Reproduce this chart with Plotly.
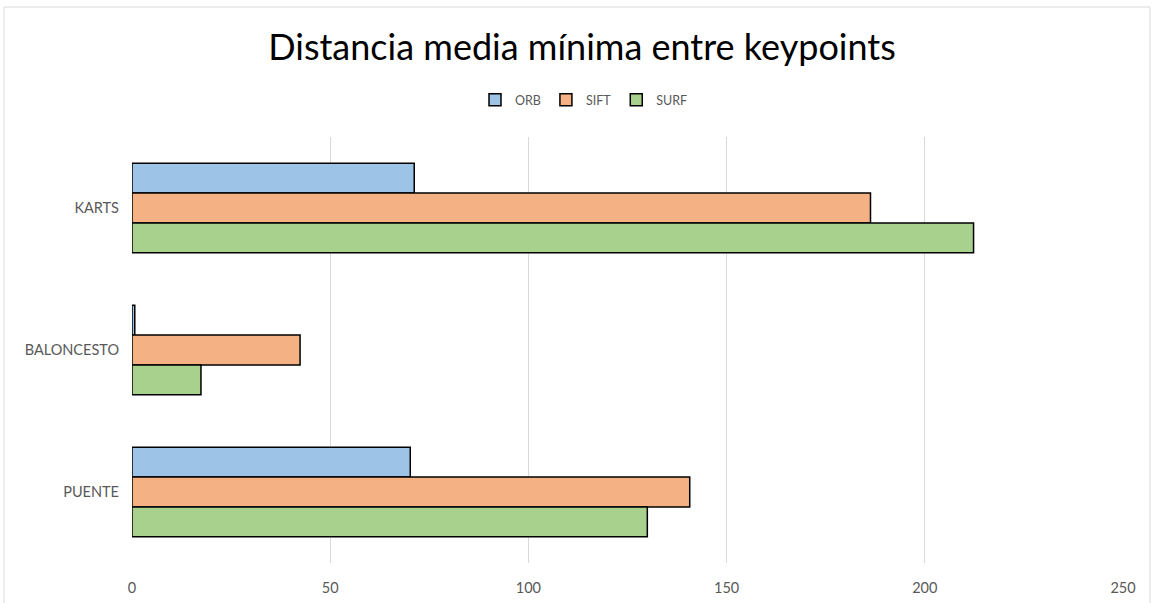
import plotly.graph_objects as go

categories = ["KARTS", "BALONCESTO", "PUENTE"]
orb = [71.2, 0.7, 70.2]
sift = [186.3, 42.4, 140.7]
surf = [212.3, 17.4, 130.0]
x_ticks = [0, 50, 100, 150, 200, 250]

colors = {"ORB": "#9DC3E6", "SIFT": "#F4B183", "SURF": "#A9D18E"}

W, H = 1154, 603
ML, MR, MT, MB = 132, 31, 137, 40

fig = go.Figure()
for name, vals in (("ORB", orb), ("SIFT", sift), ("SURF", surf)):
    fig.add_trace(go.Bar(
        y=categories, x=vals, name=name, orientation="h",
        marker=dict(color=colors[name], line=dict(color="#000000", width=1.5)),
    ))

# chart-area frame, converted from pixel positions to paper coordinates
pw = W - ML - MR
ph = H - MT - MB


def px_x(px):
    return (px - ML) / pw


def px_y(py):
    return (H - MB - py) / ph


fig.add_shape(
    type="rect", xref="paper", yref="paper",
    x0=px_x(4), x1=px_x(1150), y0=px_y(620), y1=px_y(7),
    line=dict(color="#D9D9D9", width=1), fillcolor="rgba(0,0,0,0)", layer="below",
)

fig.update_layout(
    width=W, height=H,
    margin=dict(l=ML, r=MR, t=MT, b=MB, autoexpand=False),
    paper_bgcolor="white", plot_bgcolor="white",
    font=dict(family="Lato, Open Sans, sans-serif", color="#595959", size=14),
    title=dict(text="Distancia media mínima entre keypoints", x=582 / W, xref="container",
               xanchor="center", y=1 - 47 / H, yanchor="middle",
               font=dict(size=36, color="#000000")),
    barmode="group", bargap=0.37, bargroupgap=0,
    legend=dict(orientation="h", x=584 / W, xanchor="center", xref="container",
                y=1 - 100 / H, yref="container", yanchor="middle",
                bgcolor="rgba(0,0,0,0)",
                font=dict(size=12.5, color="#595959"), itemwidth=30,
                traceorder="normal"),
    xaxis=dict(range=[0, 250], tickvals=x_ticks, showgrid=True, gridcolor="#D9D9D9",
               gridwidth=1, zeroline=False, showline=False, ticks="", automargin=False,
               ticklabelstandoff=14, tickfont=dict(size=14.5, color="#595959")),
    yaxis=dict(autorange="reversed", showgrid=False, showline=False, ticks="", automargin=False,
               ticklabelstandoff=12, tickfont=dict(size=14.5, color="#595959")),
)

fig.write_html("out.html")
